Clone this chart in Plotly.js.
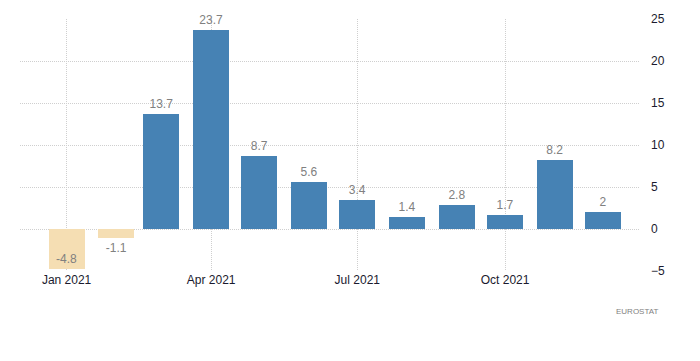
<!DOCTYPE html>
<html><head><meta charset="utf-8">
<script src="https://cdn.plot.ly/plotly-3.0.1.min.js"></script>
<style>html,body{margin:0;padding:0;background:#fff}#chart{width:700px;height:361px}</style>
</head><body><div id="chart"></div>
<script>
const months = ['2021-01-01','2021-02-01','2021-03-01','2021-04-01','2021-05-01','2021-06-01','2021-07-01','2021-08-01','2021-09-01','2021-10-01','2021-11-01','2021-12-01'];
const values = [-4.8,-1.1,13.7,23.7,8.7,5.6,3.4,1.4,2.8,1.7,8.2,2];
const labels = ['-4.8','-1.1','13.7','23.7','8.7','5.6','3.4','1.4','2.8','1.7','8.2','2'];
const yTicks = [-5,0,5,10,15,20,25];
const xTicks = ['2021-01-01','2021-04-01','2021-07-01','2021-10-01'];
const xTickText = ['Jan 2021','Apr 2021','Jul 2021','Oct 2021'];

const posColor = '#4682B4', negColor = '#F5DEB3';
const trace = {
  type:'bar', x: months, y: values, text: labels,
  width: 22.4*86400000,
  marker:{color: values.map(v=>v<0?negColor:posColor)},
  textposition: values.map((v,i)=> i===0 ? 'inside' : 'outside'),
  insidetextanchor:'end',
  textfont:{family:'Liberation Sans, Arial, sans-serif', size:12, color:'#808080'},
  insidetextfont:{color:'#808080'},
  outsidetextfont:{color:'#808080'},
  cliponaxis:false,
  hoverinfo:'none'
};
const layout = {
  width:700, height:361,
  margin:{l:20, r:60, t:19, b:90},
  paper_bgcolor:'#fff', plot_bgcolor:'#fff',
  showlegend:false,
  bargap:0,
  font:{family:'Liberation Sans, Arial, sans-serif'},
  xaxis:{type:'date', range:['2020-12-03','2021-12-24'],
    tickvals:xTicks, ticktext:xTickText,
    showgrid:true, gridcolor:'#cfcfcf', griddash:'1px,1px', gridwidth:1,
    zeroline:false, showline:false, ticks:'', ticklen:0,
    tickfont:{size:12, color:'#1a1a2e'}},
  yaxis:{side:'right', range:[-5,25], tickvals:yTicks,
    showgrid:true, gridcolor:'#cfcfcf', griddash:'1px,1px', gridwidth:1,
    zeroline:false, showline:false, ticks:'', ticklabelstandoff:10,
    tickfont:{size:12, color:'#1a1a2e'}},
  annotations:[{text:'EUROSTAT', xref:'paper', yref:'paper', x:1.0, y:-0.16, xanchor:'right', yanchor:'middle',
    showarrow:false, font:{size:8, color:'#808080'}, xshift:20}]
};
Plotly.newPlot('chart',[trace],layout,{displayModeBar:false, staticPlot:true});
</script></body></html>
